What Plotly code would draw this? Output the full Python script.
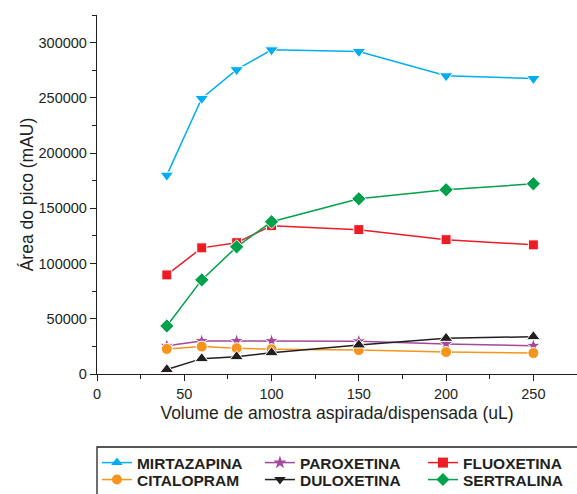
import plotly.graph_objects as go

volume = [40, 60, 80, 100, 150, 200, 250]

mirtazapina = [180000, 249500, 275500, 293500, 292000, 270000, 267500]
paroxetina = [25600, 29900, 29900, 29900, 29700, 27200, 25600]
fluoxetina = [89700, 114200, 118900, 134300, 130700, 121600, 116900]
citalopram = [22700, 24800, 23300, 22400, 21700, 19900, 19000]
duloxetina = [4000, 13900, 15700, 19300, 26300, 32300, 33800]
sertralina = [43500, 85200, 115100, 137800, 158600, 166800, 172200]

names = ["MIRTAZAPINA", "PAROXETINA", "FLUOXETINA",
         "CITALOPRAM", "DULOXETINA", "SERTRALINA"]
values = [mirtazapina, paroxetina, fluoxetina, citalopram, duloxetina, sertralina]
colors = ["#00AEEF", "#A4489A", "#ED1C24", "#F7941D", "#231F20", "#00A14B"]
plot_symbols = ["triangle-down", "star", "square", "circle", "triangle-up", "diamond"]
legend_symbols = ["triangle-up", "star", "square", "circle", "triangle-down", "diamond"]
legend_rows = ["legend", "legend", "legend", "legend2", "legend2", "legend2"]
sizes = [12, 11, 10, 11, 12, 11]

FONT = "Liberation Sans, Arial, sans-serif"
INK = "#231F20"

fig = go.Figure()

for name, vals, col, sym, sz in zip(names, values, colors, plot_symbols, sizes):
    fig.add_trace(go.Scatter(
        x=volume, y=vals, mode="lines+markers", name=name, showlegend=False,
        line=dict(color=col, width=1.5),
        marker=dict(symbol=sym, size=sz, color=col, line=dict(color="white", width=1)),
    ))

# legend-only entries, two rows of three
for name, col, sym, row in zip(names, colors, legend_symbols, legend_rows):
    fig.add_trace(go.Scatter(
        x=[None], y=[None], mode="lines+markers", name=name, legend=row,
        line=dict(color=col, width=1.5),
        marker=dict(symbol=sym, size=10, color=col),
    ))

axis_common = dict(
    showline=True, linecolor=INK, linewidth=1.3,
    ticks="outside", ticklen=6, tickwidth=1.3, tickcolor=INK,
    showgrid=False, zeroline=False,
    tickfont=dict(family=FONT, size=14.5, color=INK),
    title_font=dict(family=FONT, size=17.5, color=INK),
)

fig.update_xaxes(
    range=[0, 275], tickvals=[0, 50, 100, 150, 200, 250],
    minor=dict(ticks="outside", ticklen=4, tickwidth=1.2, tickcolor=INK, dtick=25, tick0=0),
    title_text="Volume de amostra aspirada/dispensada (uL)", title_standoff=6,
    **axis_common,
)
fig.update_yaxes(
    range=[0, 325000], tickvals=[0, 50000, 100000, 150000, 200000, 250000, 300000],
    ticktext=["0", "50000", "100000", "150000", "200000", "250000", "300000"],
    minor=dict(ticks="outside", ticklen=4, tickwidth=1.2, tickcolor=INK, dtick=25000, tick0=0),
    title_text="Área do pico (mAU)", title_standoff=0,
    **axis_common,
)

legend_common = dict(
    orientation="h", x=-0.0001, xanchor="left", yanchor="top",
    entrywidth=118, entrywidthmode="pixels",
    borderwidth=0, bgcolor="rgba(0,0,0,0)",
    font=dict(family=FONT, size=15.5, color=INK, weight="bold"),
    itemwidth=30, tracegroupgap=0,
)

fig.update_layout(
    width=577, height=494,
    margin=dict(l=97, r=0, t=15, b=120, autoexpand=False),
    plot_bgcolor="white", paper_bgcolor="white",
    showlegend=True,
    legend=dict(y=-0.2006, **legend_common),
    legend2=dict(y=-0.2479, **legend_common),
    shapes=[dict(
        type="rect", xref="paper", yref="paper",
        x0=0, x1=1.02, y0=-0.2033, y1=-0.36,
        line=dict(color=INK, width=1.3), fillcolor="rgba(0,0,0,0)", layer="below",
    )],
)

fig.write_html("out.html")
